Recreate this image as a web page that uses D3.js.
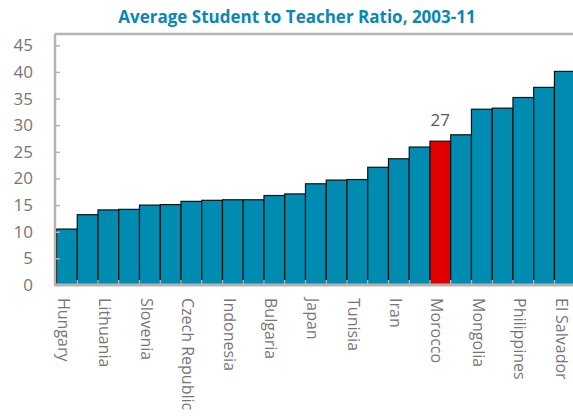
<!DOCTYPE html>
<html>
<head>
<meta charset="utf-8">
<script src="https://cdn.jsdelivr.net/npm/d3@7"></script>
<style>
  html, body { margin: 0; padding: 0; background: #fff; }
  svg { display: block; }
</style>
</head>
<body>
<svg id="chart" width="573" height="419"></svg>
<script>
// Student-to-teacher ratio by country, sorted ascending.
// Only every other country is named on the axis.
const countries = ["Hungary", "", "Lithuania", "", "Slovenia", "", "Czech Republic", "",
  "Indonesia", "", "Bulgaria", "", "Japan", "", "Tunisia", "", "Iran", "",
  "Morocco", "", "Mongolia", "", "Philippines", "", "El Salvador"];
const ratios = [10.5, 13.2, 14.1, 14.2, 15.0, 15.1, 15.7, 15.9, 16.0, 16.0, 16.8, 17.1,
  19.0, 19.7, 19.8, 22.1, 23.7, 25.9, 27, 28.2, 33.0, 33.2, 35.2, 37.1, 40.1];
const highlight = "Morocco";
const yTicks = [0, 5, 10, 15, 20, 25, 30, 35, 40, 45];
const title = "Average Student to Teacher Ratio, 2003-11";

const svg = d3.select("#chart");
const font = "'Open Sans', 'Noto Sans', sans-serif";
const gridGrey = "#b4b4b4";
const textGrey = "#767676";

const plotLeft = 55, plotTop = 34, plotBottom = 285;
const idx = d3.range(countries.length);

const x = d3.scaleBand().domain(idx).range([56.5, 575.2]).padding(0);
const y = d3.scaleLinear().domain([0, 45]).range([plotBottom, 45.3]);

// Title
svg.append("text")
  .attr("x", 297).attr("y", 23)
  .attr("text-anchor", "middle")
  .attr("font-family", font).attr("font-weight", 700)
  .attr("font-size", 17).attr("fill", "#0a87b2")
  .text(title);

// Top frame line
svg.append("line")
  .attr("x1", plotLeft).attr("x2", 573).attr("y1", plotTop).attr("y2", plotTop)
  .attr("stroke", gridGrey).attr("stroke-width", 2.5);

// Bars
svg.append("g").selectAll("rect").data(idx).join("rect")
  .attr("x", i => x(i))
  .attr("y", i => y(ratios[i]))
  .attr("width", x.bandwidth())
  .attr("height", i => y(0) - y(ratios[i]))
  .attr("fill", i => countries[i] === highlight ? "#e00000" : "#008bb0")
  .attr("stroke", "#111").attr("stroke-width", 1.2);

// Value label on highlighted bar
const hi = countries.indexOf(highlight);
svg.append("text")
  .attr("x", x(hi) + x.bandwidth() / 2)
  .attr("y", y(ratios[hi]) - 15)
  .attr("text-anchor", "middle")
  .attr("font-family", font).attr("font-size", 17).attr("fill", "#595959")
  .text(d3.format("d")(ratios[hi]));

// Y axis
const yAxis = svg.append("g")
  .attr("transform", `translate(${plotLeft},0)`)
  .call(d3.axisLeft(y).tickValues(yTicks).tickSize(-5).tickPadding(22));
yAxis.select(".domain").attr("stroke", gridGrey).attr("stroke-width", 2.5)
  .attr("d", `M0,${plotTop}V${plotBottom + 1}`);
yAxis.selectAll(".tick line").attr("stroke", gridGrey).attr("stroke-width", 1.5);
yAxis.selectAll(".tick text")
  .attr("font-family", font).attr("font-size", 17).attr("fill", textGrey);

// X axis: boundary ticks between bars, labels on every other bar
const xAxis = svg.append("g")
  .attr("transform", `translate(0,${plotBottom})`)
  .call(d3.axisBottom(x)
    .tickValues(idx.filter(i => countries[i] !== ""))
    .tickFormat(i => countries[i])
    .tickSize(0));
xAxis.select(".domain").attr("stroke", gridGrey).attr("stroke-width", 3)
  .attr("d", `M${plotLeft},0H573`);
xAxis.selectAll(".tick text")
  .attr("font-family", font).attr("font-size", 16).attr("fill", textGrey)
  .attr("text-anchor", "start")
  .attr("transform", "rotate(90)")
  .attr("x", 13).attr("y", 9).attr("dy", 0);

xAxis.append("g").selectAll("line").data(idx.slice(1)).join("line")
  .attr("x1", i => x(i)).attr("x2", i => x(i))
  .attr("y1", -1).attr("y2", -5)
  .attr("stroke", gridGrey).attr("stroke-width", 1.5);
</script>
</body>
</html>
